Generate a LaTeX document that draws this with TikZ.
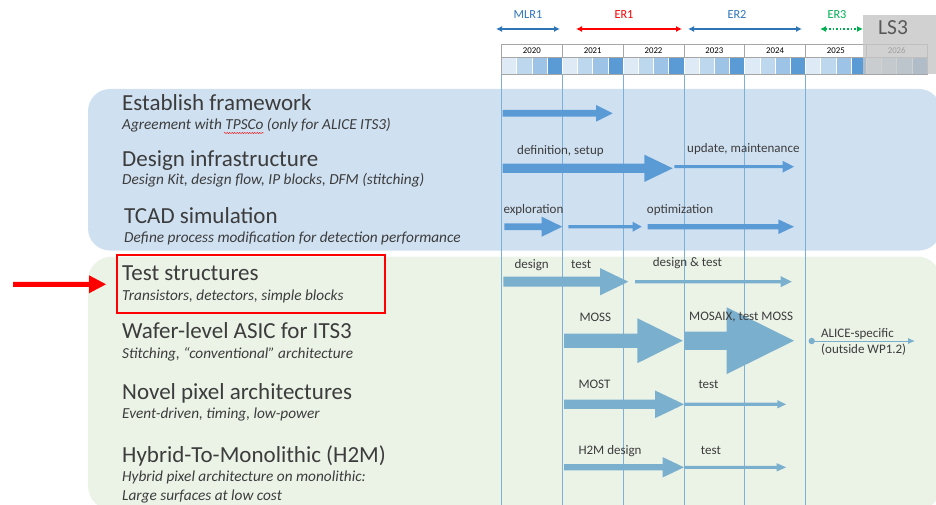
\documentclass[tikz,border=0pt]{standalone}
\usepackage{fontspec}
\setmainfont{Carlito}
\usetikzlibrary{arrows.meta,decorations.pathmorphing}

\definecolor{panelblue}{RGB}{207,224,241}
\definecolor{panelgreen}{RGB}{235,243,231}
\definecolor{arrblue}{RGB}{91,155,213}
\definecolor{arrgreen}{RGB}{122,176,206}
\definecolor{gridblue}{RGB}{125,175,215}
\definecolor{txtgray}{RGB}{60,60,60}
\definecolor{phaseblue}{RGB}{46,117,182}
\definecolor{phasegreen}{RGB}{0,176,80}
\definecolor{qa}{RGB}{222,235,247}
\definecolor{qb}{RGB}{189,215,238}
\definecolor{qc}{RGB}{157,195,230}
\definecolor{qd}{RGB}{91,155,213}

% block arrow: x1, x2, y, shaft, head start, head width, colour
\newcommand{\blockarr}[7]{%
  \fill[#7] (#1,#3-#4/2) -- (#5,#3-#4/2) -- (#5,#3-#6/2) -- (#2,#3)
    -- (#5,#3+#6/2) -- (#5,#3+#4/2) -- (#1,#3+#4/2) -- cycle;}

\begin{document}
\begin{tikzpicture}[x=1pt,y=-1pt,
    rowtitle/.style={anchor=base west, inner sep=0, text=txtgray, font=\fontsize{23}{24}\selectfont},
    rowsub/.style={anchor=base west, inner sep=0, text=txtgray, font=\fontsize{15.3}{16}\selectfont\itshape},
    tasklabel/.style={anchor=base west, inner sep=0, text=txtgray, font=\fontsize{13}{14}\selectfont},
    phaselabel/.style={anchor=base, inner sep=0, font=\fontsize{12.3}{13}\selectfont},
    yearlabel/.style={inner sep=0, font=\fontsize{8.8}{9}\selectfont}]

  \useasboundingbox (0,0) rectangle (936,505);

  % panels
  \fill[panelblue, rounded corners=22] (88,89) rectangle (941,250.5);
  \fill[panelgreen, rounded corners=24] (88,256.5) rectangle (941,510);

  % years and quarters
  \foreach \yr [count=\k from 0] in {2020,2021,2022,2023,2024,2025,2026} {
    \draw[gray!70, line width=0.5pt, fill=white] (501.5+60.8*\k,44) rectangle ++(60.8,13);
    \node[yearlabel] (y\yr) at (501.5+60.8*\k+30.4,50.5) {\yr};
    \foreach \q/\qc in {0/qa,1/qb,2/qc,3/qd}
      \fill[\qc, draw=white, line width=0.8pt] (501.5+60.8*\k+15.2*\q,57) rectangle ++(15.2,17);
  }
  \draw[gray!70, line width=0.5pt] (501.5,57) rectangle (927.1,74);

  % LS3 shade
  \fill[gray!45, opacity=0.8] (863.3,15) rectangle (936,74);
  \node[inner sep=0, text=black!65, font=\fontsize{21.5}{22}\selectfont] (ls3) at (893,28) {LS3};

  % grid lines
  \foreach \k in {0,...,5}
    \draw[gridblue, line width=0.6pt] (501.5+60.8*\k,74) -- (501.5+60.8*\k,505);

  % phases
  \node[phaselabel, text=phaseblue] (mlr) at (528,19) {MLR1};
  \node[phaselabel, text=red] (er1) at (624,19) {ER1};
  \node[phaselabel, text=phaseblue] (er2) at (737,19) {ER2};
  \node[phaselabel, text=phasegreen] (er3) at (837,19) {ER3};
  \draw[phaseblue, line width=1.6pt, {Latex[length=6pt,width=6pt]}-{Latex[length=6pt,width=6pt]}] (496,29) -- (560,29);
  \draw[red, line width=1.6pt, {Latex[length=6pt,width=6pt]}-{Latex[length=6pt,width=6pt]}] (576,29) -- (682,29);
  \draw[phaseblue, line width=1.6pt, {Latex[length=6pt,width=6pt]}-{Latex[length=6pt,width=6pt]}] (688,29) -- (802,29);
  \draw[phasegreen, line width=1.6pt, dotted, {Latex[length=6pt,width=6pt]}-{Latex[length=6pt,width=6pt]}] (820,29) -- (863,29);

  % blue panel rows
  \node[rowtitle] (t1) at (122,111) {Establish framework};
  \node[rowsub] (s1) at (122,130) {Agreement with TPSCo (only for ALICE ITS3)};
  \draw[red, line width=0.4pt, decorate, decoration={snake, amplitude=0.6pt, segment length=2.5pt}] (224,133) -- (264,133);
  \node[rowtitle] (t2) at (122,167) {Design infrastructure};
  \node[rowsub] (s2) at (122,185) {Design Kit, design flow, IP blocks, DFM (stitching)};
  \node[rowtitle] (t3) at (124,223) {TCAD simulation};
  \node[rowsub] (s3) at (124,242) {Define process modification for detection performance};

  \blockarr{502.7}{612.7}{113.3}{6.7}{596}{16.7}{arrblue}

  \blockarr{502.7}{672.7}{168.3}{9.3}{644.3}{27.3}{arrblue}
  \blockarr{674.3}{794}{166.7}{3}{782.7}{11.7}{arrblue}
  \node[tasklabel] (a2) at (517,155) {definition, setup};
  \node[tasklabel] (b2) at (687,152.5) {update, maintenance};

  \blockarr{504.3}{562.3}{226.7}{6.7}{541.7}{20}{arrblue}
  \blockarr{568.3}{641.7}{226.7}{3.3}{632.7}{10}{arrblue}
  \blockarr{647.7}{794}{226.7}{5.3}{778.3}{14.7}{arrblue}
  \node[tasklabel] (a3) at (503.3,213.3) {exploration};
  \node[tasklabel] (b3) at (646.7,213.3) {optimization};

  % green panel rows
  \node[rowtitle] (t4) at (122,280.5) {Test structures};
  \node[rowsub] (s4) at (122,300) {Transistors, detectors, simple blocks};
  \node[draw=red, line width=2pt, inner sep=0, minimum width=267.7pt, minimum height=58.3pt] (hl) at (251.2,284.2) {};
  \blockarr{13}{106}{284.3}{5}{89}{18}{red}
  \node[rowtitle] (t5) at (122,338) {Wafer-level ASIC for ITS3};
  \node[rowsub] (s5) at (122,358) {Stitching, “conventional” architecture};
  \node[rowtitle] (t6) at (122,399) {Novel pixel architectures};
  \node[rowsub] (s6) at (122,418) {Event-driven, timing, low-power};
  \node[rowtitle] (t7) at (122,462) {Hybrid-To-Monolithic (H2M)};
  \node[rowsub] (s7) at (122,481.5) {Hybrid pixel architecture on monolithic:};
  \node[rowsub] (s7b) at (122,500) {Large surfaces at low cost};

  \blockarr{503.3}{628.3}{281.7}{10}{600}{27.3}{arrgreen}
  \blockarr{635}{791.7}{281.7}{3.3}{780.7}{11}{arrgreen}
  \node[tasklabel] (a4) at (514.3,268.3) {design};
  \node[tasklabel] (b4) at (571,268.3) {test};
  \node[tasklabel] (c4) at (652.7,266.7) {design \& test};

  \blockarr{564}{682.7}{340.7}{14.3}{637.3}{45}{arrgreen}
  \blockarr{684.3}{794}{340.7}{18.3}{726.7}{66.7}{arrgreen}
  \node[tasklabel] (a5) at (579.3,321.7) {MOSS};
  \node[tasklabel] (b5) at (689,320) {MOSAIX, test MOSS};
  \coordinate (dot) at (811.7,341);
  \coordinate (out) at (915,341);
  \fill[arrgreen] (dot) circle (3.2);
  \draw[arrgreen, line width=1pt, -{Latex[length=7pt,width=6pt]}] (dot) -- (out);
  \node[tasklabel] (c5) at (821,337.3) {ALICE-specific};
  \node[tasklabel] (d5) at (821,353.3) {(outside WP1.2)};

  \blockarr{564}{684}{404.3}{9.3}{655}{27.7}{arrgreen}
  \blockarr{685}{786}{404.3}{3.3}{777.3}{8.3}{arrgreen}
  \node[tasklabel] (a6) at (578.3,388.3) {MOST};
  \node[tasklabel] (b6) at (698.3,388.3) {test};

  \blockarr{564}{684}{467.3}{6.3}{662.7}{20.3}{arrgreen}
  \blockarr{685}{786}{467.3}{3}{776.7}{8.3}{arrgreen}
  \node[tasklabel] (a7) at (578.3,454) {H2M design};
  \node[tasklabel] (b7) at (700.7,454) {test};

\end{tikzpicture}
\end{document}
